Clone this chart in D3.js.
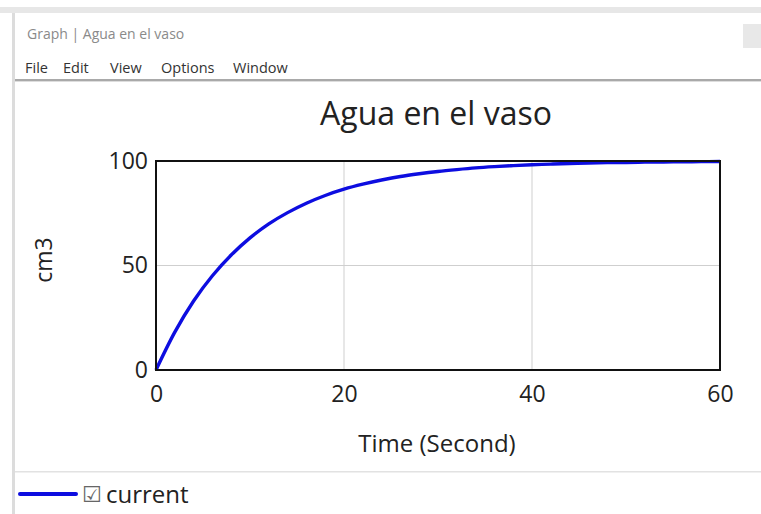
<!DOCTYPE html>
<html>
<head>
<meta charset="utf-8">
<script src="https://cdn.jsdelivr.net/npm/d3@7/dist/d3.min.js"></script>
<style>
  html, body { margin: 0; padding: 0; background: #ffffff; }
  svg { display: block; }
</style>
</head>
<body>
<svg id="chart" width="761" height="514"></svg>
<script>
// Simulated water volume in the glass (cm3), sampled every 2 seconds
const timeSeconds = [0, 2, 4, 6, 8, 10, 12, 14, 16, 18, 20, 22, 24, 26, 28, 30,
                     32, 34, 36, 38, 40, 42, 44, 46, 48, 50, 52, 54, 56, 58, 60];
const currentValues = [0, 18.1, 33, 45.1, 55, 63.2, 69.9, 75.3, 79.8, 83.5, 86.5, 88.9, 90.9, 92.6, 93.9, 95,
                       95.9, 96.7, 97.3, 97.8, 98.2, 98.5, 98.8, 99, 99.2, 99.3, 99.45, 99.55, 99.63, 99.7, 99.75];
const xTicks = [0, 20, 40, 60];
const yTicks = [0, 50, 100];
const menuItems = ["File", "Edit", "View", "Options", "Window"];
const seriesName = "current";

const svg = d3.select("#chart");
const font = "'Open Sans', 'Noto Sans', sans-serif";

// Window frame
svg.append("rect").attr("x", 0).attr("y", 7).attr("width", 761).attr("height", 6).attr("fill", "#e7e7e7");
svg.append("rect").attr("x", 12).attr("y", 13).attr("width", 3).attr("height", 501).attr("fill", "#dcdcdc");
svg.append("rect").attr("x", 743).attr("y", 24).attr("width", 18).attr("height", 24).attr("fill", "#e8e8e8");
svg.append("text").attr("x", 27).attr("y", 39).attr("font-family", font).attr("font-size", 14)
  .attr("fill", "#8a8a8a").text("Graph | Agua en el vaso");

// Menu bar
const menuX = [25, 63, 110, 161, 233];
svg.selectAll("text.menu").data(menuItems).join("text")
  .attr("class", "menu")
  .attr("x", (d, i) => menuX[i]).attr("y", 73)
  .attr("font-family", font).attr("font-size", 14.5).attr("fill", "#333")
  .text(d => d);
svg.append("rect").attr("x", 15).attr("y", 79).attr("width", 746).attr("height", 2).attr("fill", "#a9a9a9");
svg.append("rect").attr("x", 15).attr("y", 81).attr("width", 746).attr("height", 1).attr("fill", "#dddddd");

// Plot area
const plot = { left: 156, right: 720, top: 161, bottom: 370 };
const x = d3.scaleLinear().domain([0, 60]).range([plot.left, plot.right]);
const y = d3.scaleLinear().domain([0, 100]).range([plot.bottom, plot.top]);

// Grid lines
const grid = svg.append("g");
grid.selectAll("line.gx").data(xTicks.slice(1, -1)).join("line")
  .attr("x1", d => x(d)).attr("x2", d => x(d)).attr("y1", plot.top).attr("y2", plot.bottom)
  .attr("stroke", "#cfcfcf").attr("stroke-width", 1);
grid.selectAll("line.gy").data(yTicks.slice(1, -1)).join("line")
  .attr("x1", plot.left).attr("x2", plot.right).attr("y1", d => y(d)).attr("y2", d => y(d))
  .attr("stroke", "#cfcfcf").attr("stroke-width", 1);

// Axes (labels only, frame drawn separately)
const xAxis = svg.append("g").attr("transform", `translate(0,${plot.bottom})`)
  .call(d3.axisBottom(x).tickValues(xTicks).tickSize(0).tickPadding(16));
const yAxis = svg.append("g").attr("transform", `translate(${plot.left},0)`)
  .call(d3.axisLeft(y).tickValues(yTicks).tickSize(0).tickPadding(8));
[xAxis, yAxis].forEach(a => {
  a.select(".domain").remove();
  a.selectAll("text").attr("font-family", font).attr("font-size", 23).attr("fill", "#222");
});

// Series line
const line = d3.line()
  .x((d, i) => x(timeSeconds[i]))
  .y(d => y(d))
  .curve(d3.curveCatmullRom);
svg.append("path").datum(currentValues)
  .attr("d", line).attr("fill", "none")
  .attr("stroke", "#0d0de0").attr("stroke-width", 3.4).attr("stroke-linejoin", "round");

// Frame
svg.append("rect").attr("x", plot.left).attr("y", plot.top)
  .attr("width", plot.right - plot.left).attr("height", plot.bottom - plot.top)
  .attr("fill", "none").attr("stroke", "#111").attr("stroke-width", 2);

// Titles
svg.append("text").attr("x", 436).attr("y", 125).attr("text-anchor", "middle")
  .attr("font-family", font).attr("font-size", 32).attr("fill", "#222").text("Agua en el vaso");
svg.append("text").attr("x", 437).attr("y", 452).attr("text-anchor", "middle")
  .attr("font-family", font).attr("font-size", 24).attr("fill", "#222").text("Time (Second)");
svg.append("text").attr("transform", "translate(52,260) rotate(-90)").attr("text-anchor", "middle")
  .attr("font-family", font).attr("font-size", 23).attr("fill", "#222").text("cm3");

// Legend
svg.append("rect").attr("x", 15).attr("y", 471).attr("width", 746).attr("height", 1.5).attr("fill", "#e2e2e2");
svg.append("line").attr("x1", 20).attr("x2", 76).attr("y1", 494).attr("y2", 494)
  .attr("stroke", "#0d0de0").attr("stroke-width", 4).attr("stroke-linecap", "round");
svg.append("text").attr("x", 82).attr("y", 502).attr("font-family", "'DejaVu Sans', sans-serif")
  .attr("font-size", 22).attr("fill", "#666").text("\u2611");
svg.append("text").attr("x", 106).attr("y", 503).attr("font-family", font).attr("font-size", 24)
  .attr("fill", "#222").text(seriesName);
</script>
</body>
</html>
